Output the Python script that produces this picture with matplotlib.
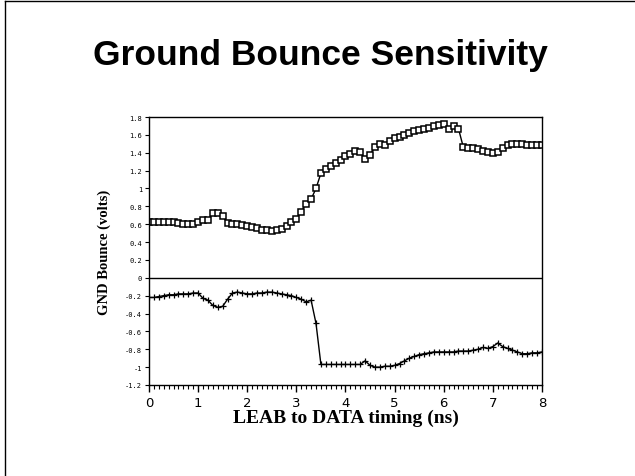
import matplotlib
matplotlib.use("Agg")
import matplotlib.pyplot as plt
from matplotlib.lines import Line2D
from matplotlib.ticker import MultipleLocator

# timing sweep (ns), 0.1 ns steps
timing = [0.0, 0.1, 0.2, 0.3, 0.4, 0.5, 0.6, 0.7, 0.8, 0.9,
          1.0, 1.1, 1.2, 1.3, 1.4, 1.5, 1.6, 1.7, 1.8, 1.9,
          2.0, 2.1, 2.2, 2.3, 2.4, 2.5, 2.6, 2.7, 2.8, 2.9,
          3.0, 3.1, 3.2, 3.3, 3.4, 3.5, 3.6, 3.7, 3.8, 3.9,
          4.0, 4.1, 4.2, 4.3, 4.4, 4.5, 4.6, 4.7, 4.8, 4.9,
          5.0, 5.1, 5.2, 5.3, 5.4, 5.5, 5.6, 5.7, 5.8, 5.9,
          6.0, 6.1, 6.2, 6.3, 6.4, 6.5, 6.6, 6.7, 6.8, 6.9,
          7.0, 7.1, 7.2, 7.3, 7.4, 7.5, 7.6, 7.7, 7.8, 7.9, 8.0]

# positive ground bounce (volts)
bounce_pos = [0.63, 0.63, 0.63, 0.63, 0.62, 0.62, 0.61, 0.60, 0.60, 0.60,
              0.62, 0.65, 0.65, 0.72, 0.72, 0.69, 0.61, 0.60, 0.60, 0.59,
              0.58, 0.57, 0.56, 0.54, 0.53, 0.52, 0.53, 0.55, 0.58, 0.62,
              0.66, 0.74, 0.83, 0.88, 1.00, 1.17, 1.22, 1.25, 1.29, 1.32,
              1.36, 1.39, 1.42, 1.41, 1.33, 1.38, 1.46, 1.50, 1.49, 1.53,
              1.56, 1.58, 1.60, 1.62, 1.64, 1.65, 1.67, 1.68, 1.70, 1.71,
              1.72, 1.67, 1.70, 1.67, 1.46, 1.45, 1.45, 1.44, 1.42, 1.41,
              1.40, 1.41, 1.45, 1.49, 1.50, 1.50, 1.50, 1.49, 1.49, 1.49, 1.49]

# negative ground bounce (volts)
bounce_neg = [-0.22, -0.22, -0.21, -0.20, -0.19, -0.19, -0.18, -0.18, -0.18, -0.17,
              -0.17, -0.23, -0.25, -0.31, -0.33, -0.32, -0.24, -0.17, -0.16, -0.17,
              -0.18, -0.18, -0.17, -0.17, -0.16, -0.16, -0.17, -0.18, -0.19, -0.20,
              -0.22, -0.24, -0.27, -0.25, -0.51, -0.97, -0.97, -0.97, -0.97, -0.97,
              -0.97, -0.97, -0.97, -0.97, -0.93, -0.98, -1.00, -1.00, -0.99, -0.99,
              -0.98, -0.96, -0.93, -0.90, -0.88, -0.86, -0.85, -0.84, -0.83, -0.83,
              -0.83, -0.83, -0.83, -0.82, -0.82, -0.82, -0.81, -0.80, -0.78, -0.79,
              -0.77, -0.73, -0.77, -0.79, -0.81, -0.83, -0.85, -0.85, -0.84, -0.84, -0.83]

ytick_vals = [1.8, 1.6, 1.4, 1.2, 1, 0.8, 0.6, 0.4, 0.2, 0,
              -0.2, -0.4, -0.6, -0.8, -1, -1.2]
ytick_labels = ["1.8", "1.6", "1.4", "1.2", "1", "0.8", "0.6", "0.4", "0.2", "0",
                "-0.2", "-0.4", "-0.6", "-0.8", "-1", "-1.2"]

fig = plt.figure(figsize=(6.35, 4.77), dpi=100)
ax = fig.add_axes([0.2346, 0.1908, 0.6189, 0.5618])

ax.plot(timing, bounce_pos, color="black", lw=1.0, marker="s", ms=4.2,
        mfc="white", mec="black", mew=1.1)
ax.plot(timing, bounce_neg, color="black", lw=1.0, marker="+", ms=3.8, mew=0.9)
ax.axhline(0, color="black", lw=1.0)

ax.set_xlim(0, 8)
ax.set_ylim(-1.2, 1.8)
ax.set_yticks(ytick_vals)
ax.set_yticklabels(ytick_labels, fontsize=5, family="DejaVu Sans Mono")
ax.xaxis.set_major_locator(MultipleLocator(1))
ax.xaxis.set_minor_locator(MultipleLocator(0.1))
ax.tick_params(axis="x", which="major", direction="out", length=5, width=1,
               labelsize=9.5, pad=3)
ax.tick_params(axis="x", which="minor", direction="out", length=3, width=0.8)
ax.tick_params(axis="y", direction="out", length=3, width=0.8, pad=2)
for lbl in ax.get_xticklabels():
    lbl.set_family("DejaVu Sans")

for side in ["left", "bottom", "right", "top"]:
    ax.spines[side].set_linewidth(1.0)

ax.set_ylabel("GND Bounce (volts)", family="Liberation Serif", fontweight="bold",
              fontsize=10.5, labelpad=10)
ax.set_xlabel("LEAB to DATA timing (ns)", family="Liberation Serif",
              fontweight="bold", fontsize=14, labelpad=0)

fig.text(0.504, 0.884, "Ground Bounce Sensitivity", ha="center", va="center",
         family="Liberation Sans", fontweight="bold", fontsize=25.5)

# slide frame
fig.add_artist(Line2D([0.008, 0.008], [0.0, 0.995], color="black", lw=1.0,
                      transform=fig.transFigure))
fig.add_artist(Line2D([0.008, 1.0], [0.995, 0.995], color="black", lw=1.0,
                      transform=fig.transFigure))

fig.savefig("out.png", dpi=100)
